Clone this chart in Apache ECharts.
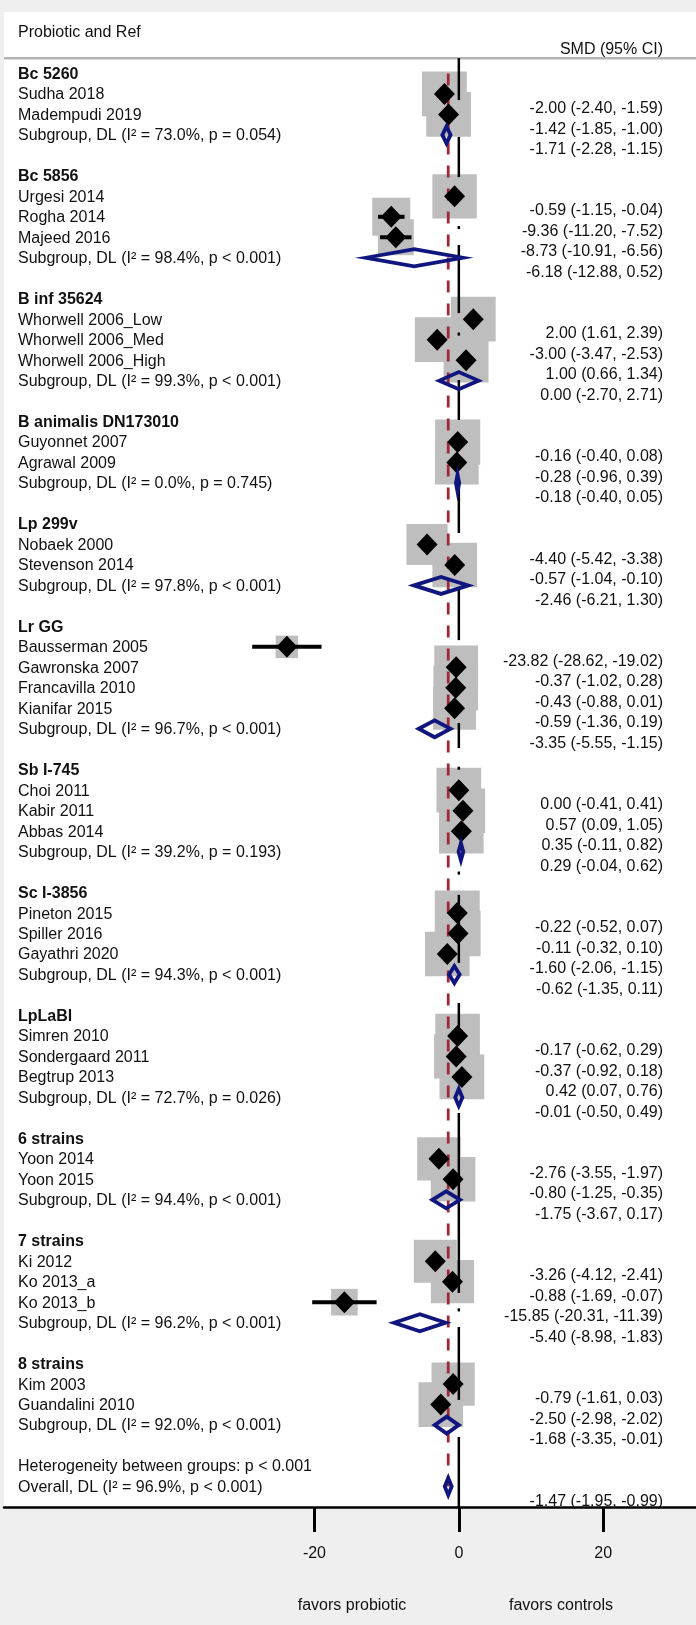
<!DOCTYPE html>
<html><head><meta charset="utf-8">
<script src="https://cdn.jsdelivr.net/npm/echarts@6/dist/echarts.min.js"></script>
<style>html,body{margin:0;padding:0;background:#efefef}#c{width:696px;height:1625px}</style>
</head><body><div id="c"></div><script>
// ---------------- DATA ----------------
const groupNames = ['Bc 5260','Bc 5856','B inf 35624','B animalis DN173010','Lp 299v','Lr GG','Sb I-745','Sc I-3856','LpLaBl','6 strains','7 strains','8 strains'];
const groupI2 = ['73.0%','98.4%','99.3%','0.0%','97.8%','96.7%','39.2%','94.3%','72.7%','94.4%','96.2%','92.0%'];
const groupP = ['p = 0.054','p < 0.001','p < 0.001','p = 0.745','p < 0.001','p < 0.001','p = 0.193','p < 0.001','p = 0.026','p < 0.001','p < 0.001','p < 0.001'];
const subEst = [-1.71,-6.18,0.00,-0.18,-2.46,-3.35,0.29,-0.62,-0.01,-1.75,-5.40,-1.68];
const subLo  = [-2.28,-12.88,-2.70,-0.40,-6.21,-5.55,-0.04,-1.35,-0.50,-3.67,-8.98,-3.35];
const subHi  = [-1.15,0.52,2.71,0.05,1.30,-1.15,0.62,0.11,0.49,0.17,-1.83,-0.01];

const studyNames = ['Sudha 2018','Madempudi 2019',
  'Urgesi 2014','Rogha 2014','Majeed 2016',
  'Whorwell 2006_Low','Whorwell 2006_Med','Whorwell 2006_High',
  'Guyonnet 2007','Agrawal 2009',
  'Nobaek 2000','Stevenson 2014',
  'Bausserman 2005','Gawronska 2007','Francavilla 2010','Kianifar 2015',
  'Choi 2011','Kabir 2011','Abbas 2014',
  'Pineton 2015','Spiller 2016','Gayathri 2020',
  'Simren 2010','Sondergaard 2011','Begtrup 2013',
  'Yoon 2014','Yoon 2015',
  'Ki 2012','Ko 2013_a','Ko 2013_b',
  'Kim 2003','Guandalini 2010'];
const studyGroup = [0,0, 1,1,1, 2,2,2, 3,3, 4,4, 5,5,5,5, 6,6,6, 7,7,7, 8,8,8, 9,9, 10,10,10, 11,11];
const studyEst = [-2.00,-1.42, -0.59,-9.36,-8.73, 2.00,-3.00,1.00, -0.16,-0.28, -4.40,-0.57,
  -23.82,-0.37,-0.43,-0.59, 0.00,0.57,0.35, -0.22,-0.11,-1.60, -0.17,-0.37,0.42, -2.76,-0.80,
  -3.26,-0.88,-15.85, -0.79,-2.50];
const studyLo = [-2.40,-1.85, -1.15,-11.20,-10.91, 1.61,-3.47,0.66, -0.40,-0.96, -5.42,-1.04,
  -28.62,-1.02,-0.88,-1.36, -0.41,0.09,-0.11, -0.52,-0.32,-2.06, -0.62,-0.92,0.07, -3.55,-1.25,
  -4.12,-1.69,-20.31, -1.61,-2.98];
const studyHi = [-1.59,-1.00, -0.04,-7.52,-6.56, 2.39,-2.53,1.34, 0.08,0.39, -3.38,-0.10,
  -19.02,0.28,0.01,0.19, 0.41,1.05,0.82, 0.07,0.10,-1.15, 0.29,0.18,0.76, -1.97,-0.35,
  -2.41,-0.07,-11.39, 0.03,-2.02];
// study weights (%)
const studyWeight = [3.27,3.25, 3.20,2.35,2.10, 3.27,3.24,3.28, 3.31,3.10, 2.75,3.24,
  0.82,3.12,3.24,3.00, 3.25,3.22,3.23, 3.29,3.31,3.23, 3.23,3.17,3.26, 3.06,3.23,
  3.01,3.04,1.15, 3.03,3.23];

const overallEst = -1.47, overallLo = -1.95, overallHi = -0.99;
const overallI2 = '96.9%', overallP = 'p < 0.001';
const hetText = 'Heterogeneity between groups: p < 0.001';
const headerLeft = 'Probiotic and Ref';
const headerRight = 'SMD (95% CI)';
const xTicks = [-20, 0, 20];
const favorsLeft = 'favors probiotic', favorsRight = 'favors controls';

// ---------------- LAYOUT / STYLE ----------------
const FONT = '16px "Liberation Sans", Arial, sans-serif';
const FONT_B = 'bold 16px "Liberation Sans", Arial, sans-serif';
const BOX_K = 24.8;
const VAL_OFFSET = 0.72;
const VAL_X = 663;
const NAVY = '#10167e';
// visible pieces of the null line (row units)
const nullSegs = [[-0.75,1.3],[3.1,5.06],[7.45,7.6],[8.38,11.7],[12.65,12.8],[14.97,16.92],[20.0,22.44],
  [25.08,27.67],[31.72,32.94],[33.85,34.0],[38.97,39.12],[40.11,43.43],[45.39,46.56],[50.76,59.55],
  [60.3,60.45],[61.21,64.77],[66.58,70]];

let row = 0;
const labels = [];      // [row, text, bold]
const values = [];      // [row, text]
const studyRow = [], subRow = [];
const fmt = (e,l,h) => `${e.toFixed(2)} (${l.toFixed(2)}, ${h.toFixed(2)})`;
groupNames.forEach((g, gi) => {
  labels.push([row, g, 1]); row++;
  studyNames.forEach((s, si) => {
    if (studyGroup[si] === gi) {
      studyRow[si] = row; labels.push([row, s, 0]);
      values.push([row + VAL_OFFSET, fmt(studyEst[si], studyLo[si], studyHi[si])]);
      row++;
    }
  });
  subRow[gi] = row;
  labels.push([row, `Subgroup, DL (I² = ${groupI2[gi]}, ${groupP[gi]})`, 0]);
  values.push([row + VAL_OFFSET, fmt(subEst[gi], subLo[gi], subHi[gi])]);
  row += 2;
});
const hetRow = row; labels.push([row, hetText, 0]); row++;
const overallRow = row;
labels.push([row, `Overall, DL (I² = ${overallI2}, ${overallP})`, 0]);
values.push([row + VAL_OFFSET, fmt(overallEst, overallLo, overallHi)]);

const chart = echarts.init(document.getElementById('c'), null, {renderer: 'canvas'});

const summaryData = subEst.map((e, i) => [subLo[i], e, subHi[i], subRow[i]]);
summaryData.push([overallLo, overallEst, overallHi, overallRow]);

chart.setOption({
  backgroundColor: '#efefef',
  animation: false,
  grid: {left: 4, right: 0, top: 12, bottom: 118, show: true, backgroundColor: '#ffffff', borderWidth: 0},
  xAxis: {
    type: 'value', min: -63, max: 32.85, position: 'bottom',
    axisLine: {show: true, onZero: false, lineStyle: {color: '#000', width: 2.5}},
    axisTick: {show: true, customValues: xTicks, length: 25, lineStyle: {color: '#000', width: 3}},
    axisLabel: {customValues: xTicks, margin: 39, color: '#111', fontSize: 16, fontFamily: '"Liberation Sans", Arial, sans-serif'},
    splitLine: {show: false}
  },
  yAxis: {type: 'value', inverse: true, min: -3, max: 70, show: false},
  series: [
    { // weight boxes
      type: 'custom', z: 2, silent: true,
      data: studyEst.map((e, i) => [e, studyRow[i], studyWeight[i]]),
      renderItem: (p, api) => {
        const c = api.coord([api.value(0), api.value(1)]);
        const s = BOX_K * Math.sqrt(api.value(2));
        return {type: 'rect', shape: {x: c[0] - s/2, y: c[1] - s/2, width: s, height: s}, style: {fill: '#bebebe'}};
      }
    },
    { // null line pieces
      type: 'custom', z: 3, silent: true,
      data: nullSegs.map(s => [0, s[0], s[1]]),
      renderItem: (p, api) => {
        const a = api.coord([api.value(0), api.value(1)]);
        const b = api.coord([api.value(0), api.value(2)]);
        return {type: 'line', shape: {x1: a[0], y1: a[1], x2: b[0], y2: b[1]}, style: {stroke: '#000', lineWidth: 2.5}};
      }
    },
    { // overall effect dashed line
      type: 'line', z: 3, silent: true, symbol: 'none',
      data: [[overallEst, 0], [overallEst, overallRow]],
      lineStyle: {color: '#9e2a38', width: 2.8, type: [12, 11]}
    },
    { // CI lines
      type: 'custom', z: 4, silent: true,
      data: studyEst.map((e, i) => [studyLo[i], studyHi[i], studyRow[i]]),
      renderItem: (p, api) => {
        const a = api.coord([api.value(0), api.value(2)]);
        const b = api.coord([api.value(1), api.value(2)]);
        return {type: 'line', shape: {x1: a[0], y1: a[1], x2: b[0], y2: b[1]}, style: {stroke: '#000', lineWidth: 4}};
      }
    },
    { // study point estimates
      type: 'custom', z: 5, silent: true,
      data: studyEst.map((e, i) => [e, studyRow[i]]),
      renderItem: (p, api) => {
        const c = api.coord([api.value(0), api.value(1)]);
        const w = 10.5, h = 11;
        return {type: 'polygon', shape: {points: [[c[0]-w, c[1]], [c[0], c[1]-h], [c[0]+w, c[1]], [c[0], c[1]+h]]}, style: {fill: '#000'}};
      }
    },
    { // subgroup / overall diamonds
      type: 'custom', z: 5, silent: true,
      data: summaryData,
      renderItem: (p, api) => {
        const l = api.coord([api.value(0), api.value(3)]);
        const m = api.coord([api.value(1), api.value(3)]);
        const r = api.coord([api.value(2), api.value(3)]);
        const h = 8.5;
        return {type: 'polygon', shape: {points: [[l[0], l[1]], [m[0], m[1]-h], [r[0], r[1]], [m[0], m[1]+h]]},
          style: {fill: 'none', stroke: NAVY, lineWidth: 3.8, lineJoin: 'miter'}};
      }
    },
    { // left labels
      type: 'custom', z: 6, silent: true,
      data: labels.map((l, i) => [0, l[0], i]),
      renderItem: (p, api) => {
        const lab = labels[api.value(2)];
        const c = api.coord([0, api.value(1)]);
        return {type: 'text', x: 18, y: c[1] + 1, style: {text: lab[1], font: lab[2] ? FONT_B : FONT, fill: '#111', textAlign: 'left', textVerticalAlign: 'middle'}};
      }
    },
    { // value column
      type: 'custom', z: 6, silent: true,
      data: values.map((v, i) => [0, v[0], i]),
      renderItem: (p, api) => {
        const v = values[api.value(2)];
        const c = api.coord([0, api.value(1)]);
        return {type: 'text', x: VAL_X, y: c[1], style: {text: v[1], font: FONT, fill: '#111', textAlign: 'right', textVerticalAlign: 'middle'}};
      }
    }
  ],
  graphic: [
    {type: 'text', left: 18, top: 25, style: {text: headerLeft, font: FONT, fill: '#111'}},
    {type: 'text', right: 33, top: 42, style: {text: headerRight, font: FONT, fill: '#111'}},
    {type: 'rect', left: 4, top: 57, shape: {width: 692, height: 2.5}, style: {fill: '#b4b4b4'}},
    {type: 'text', x: 352, y: 1606, style: {text: favorsLeft, font: FONT, fill: '#111', textAlign: 'center', textVerticalAlign: 'middle'}},
    {type: 'text', x: 561, y: 1606, style: {text: favorsRight, font: FONT, fill: '#111', textAlign: 'center', textVerticalAlign: 'middle'}}
  ]
});
</script></body></html>
